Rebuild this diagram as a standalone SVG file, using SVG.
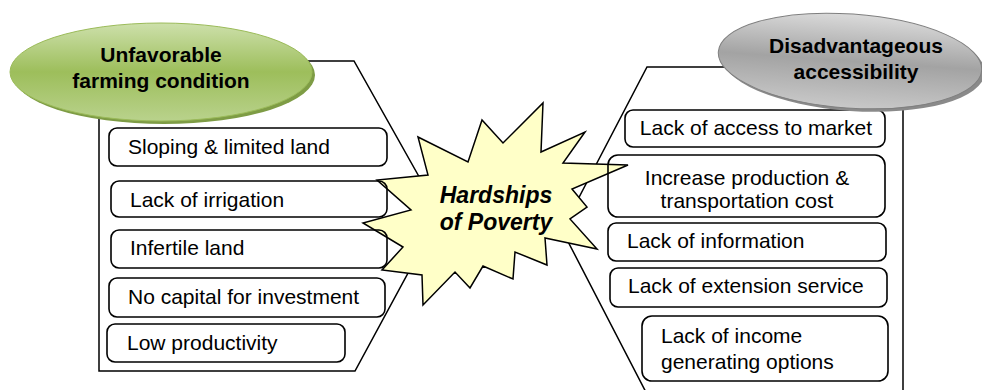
<svg xmlns="http://www.w3.org/2000/svg" width="982" height="390" viewBox="0 0 982 390">
<defs>
<linearGradient id="gGreen" x1="0" y1="0" x2="0" y2="1">
<stop offset="0" stop-color="#cde0ab"/>
<stop offset="0.5" stop-color="#9dbe5b"/>
<stop offset="1" stop-color="#b9d28c"/>
</linearGradient>
<linearGradient id="gGrey" x1="0" y1="0" x2="0" y2="1">
<stop offset="0" stop-color="#dadada"/>
<stop offset="0.5" stop-color="#a3a3a3"/>
<stop offset="1" stop-color="#c8c8c8"/>
</linearGradient>
<style>
.panel{fill:#ffffff;stroke:#000;stroke-width:1.5;stroke-linejoin:miter}
.box{fill:none;stroke:#000;stroke-width:1.6}
.t{font-family:"Liberation Sans",Arial,sans-serif;font-size:21px;fill:#000}
.b{font-family:"Liberation Sans",Arial,sans-serif;font-size:21px;font-weight:bold;fill:#000;text-anchor:middle}
.star{fill:#ffffc8;stroke:#000;stroke-width:1.5;stroke-linejoin:miter}
.st{font-family:"Liberation Sans",Arial,sans-serif;font-size:23px;font-weight:bold;font-style:italic;fill:#000;text-anchor:middle}
</style>
</defs>
<rect width="982" height="390" fill="#ffffff"/>
<g id="connectors">
<polygon class="panel" points="99,61 354,61 440,214 355,371 99,371"/>
<polygon class="panel" points="647,67 903,67 903,400 650,400 562,230"/>
</g>
<g id="hardships">
<polygon class="star" points="543,103 541,152 585,132 563,163 628,165 572,189 587,207 570,219 597,249 545,238 547,265 515,252 513,279 483,266 470,288 455,272 423,305 422,275 382,270 403,247 363,223 411,210 377,180 428,175 418,137 468,162 482,120 503,143"/>
<text class="st" x="496" y="203">Hardships</text>
<text class="st" x="496" y="230">of Poverty</text>
</g>
<g id="left-items">
<g id="sloping"><rect class="box" x="109" y="128" width="278" height="38" rx="8"/><text class="t" x="128" y="154">Sloping &amp; limited land</text></g>
<g id="irrigation"><rect class="box" x="111" y="181" width="276" height="36" rx="8"/><text class="t" x="130" y="207">Lack of irrigation</text></g>
<g id="infertile"><rect class="box" x="111" y="230" width="276" height="38" rx="8"/><text class="t" x="130" y="255">Infertile land</text></g>
<g id="capital"><rect class="box" x="109" y="278" width="276" height="39" rx="8"/><text class="t" x="128" y="304">No capital for investment</text></g>
<g id="productivity"><rect class="box" x="107" y="324" width="238" height="38" rx="8"/><text class="t" x="127" y="350">Low productivity</text></g>
</g>
<g id="right-items">
<g id="market"><rect class="box" x="625" y="110" width="260" height="37" rx="8"/><text class="t" x="756" y="135" text-anchor="middle">Lack of access to market</text></g>
<g id="cost"><rect class="box" x="608" y="155" width="277" height="62" rx="10"/><text class="t" x="747" y="185" text-anchor="middle">Increase production &amp;</text><text class="t" x="747" y="208" text-anchor="middle">transportation cost</text></g>
<g id="information"><rect class="box" x="608" y="223" width="278" height="38" rx="8"/><text class="t" x="627" y="248">Lack of information</text></g>
<g id="extension"><rect class="box" x="610" y="268" width="277" height="39" rx="8"/><text class="t" x="628" y="293">Lack of extension service</text></g>
<g id="income"><rect class="box" x="642" y="316" width="246" height="65" rx="10"/><text class="t" x="661" y="343">Lack of income</text><text class="t" x="661" y="369">generating options</text></g>
</g>
<g id="unfavorable">
<ellipse cx="164" cy="75" rx="151" ry="49" fill="#7e9c45"/>
<ellipse cx="161" cy="72" rx="151" ry="49" fill="url(#gGreen)" stroke="#9bbb59" stroke-width="1"/>
<text class="b" x="161" y="62">Unfavorable</text>
<text class="b" x="161" y="88">farming condition</text>
</g>
<g id="disadvantageous">
<ellipse cx="853" cy="64" rx="132" ry="47" fill="#8a8a8a" transform="rotate(4 853 64)"/>
<ellipse cx="850" cy="61" rx="132" ry="47" fill="url(#gGrey)" stroke="#7f7f7f" stroke-width="1" transform="rotate(4 850 61)"/>
<text class="b" x="856" y="53">Disadvantageous</text>
<text class="b" x="856" y="79">accessibility</text>
</g>
</svg>
